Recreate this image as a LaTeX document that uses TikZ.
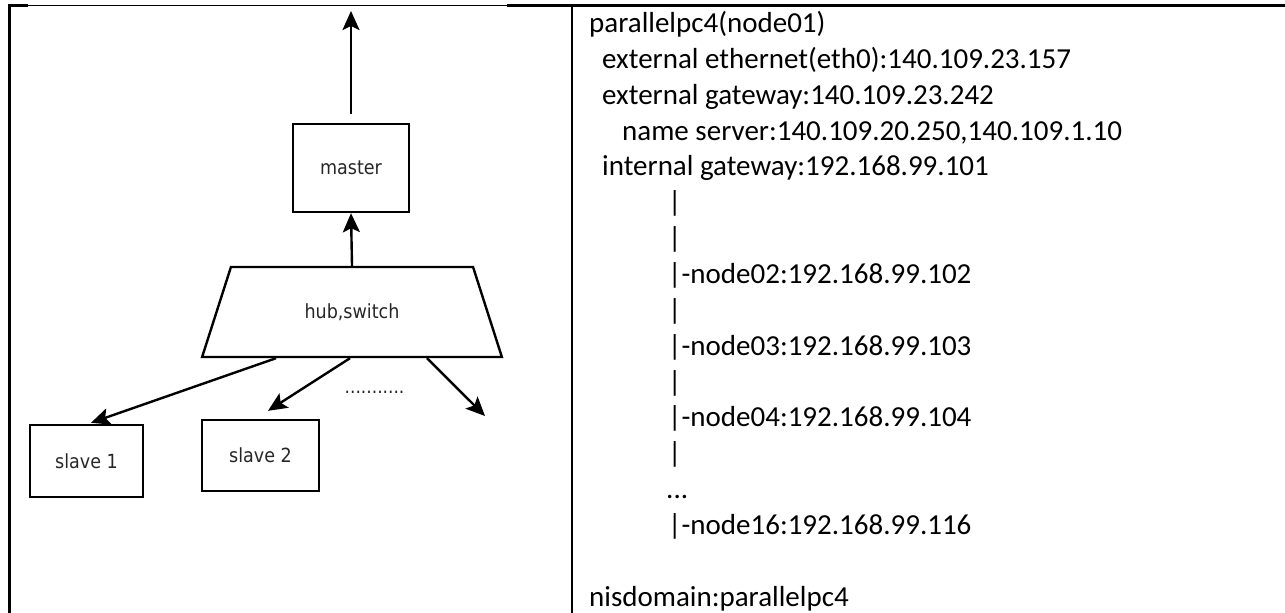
\documentclass[tikz,border=0pt]{standalone}
\usepackage{fontspec}
\setmainfont{Carlito}
\newfontfamily\diagfont{DejaVu Sans Condensed}
\usetikzlibrary{arrows.meta,shapes.geometric,calc}
\begin{document}
\begin{tikzpicture}[x=1pt,y=-1pt,
  box/.style={draw, line width=2.4pt, inner sep=0pt, font=\diagfont\fontsize{19.5}{22}\selectfont, text=black!85},
  conn/.style={line width=2.4pt, -{Stealth[length=19pt,width=17pt,inset=4pt]}},
  rtext/.style={anchor=base west, inner sep=0pt, font=\fontsize{29}{36}\selectfont},
  border/.style={line width=2.5pt}]
\useasboundingbox (0,0) rectangle (1285,613);
% table borders
\draw[border] (8,5.5) -- (28,5.5);
\draw[line width=1pt] (28,5) -- (507,5);
\draw[border] (507,5.5) -- (1285,5.5);
\draw[border] (9.5,4.25) -- (9.5,613);
\draw[line width=2pt] (572,4.25) -- (572,613);
% diagram
\node[box, minimum width=116pt, minimum height=88pt] (master) at (351,168) {master};
\node[box, trapezium, trapezium angle=56.5, trapezium stretches=true, minimum width=300pt, minimum height=90pt] (hub) at (352,312) {hub,switch};
\node[box, minimum width=113pt, minimum height=72pt] (s1) at (86.5,461) {slave 1};
\node[box, minimum width=117pt, minimum height=71pt] (s2) at (260.5,455.5) {slave 2};
\node[anchor=base, inner sep=0pt, font=\diagfont\fontsize{19}{20}\selectfont, text=black!85] (dots) at (374.5,393) {...........};
\coordinate (top) at (351,11);
\coordinate (e3) at (485,416);
\draw[conn] ([yshift=9pt]master.north) -- (top);
\draw[conn] (hub.north) -- (master.south);
\draw[conn] ($(hub.south)+(-76,0)$) -- ($(s1.north)+(4.5,-1)$);
\draw[conn] ($(hub.south)+(-2,0)$) -- ($(s2.north)+(7.5,-8)$);
\draw[conn] ($(hub.south)+(75,0)$) -- (e3);
% right cell text
\node[rtext] (r1) at (589,32) {parallelpc4(node01)};
\node[rtext] (r2) at (602,68) {external ethernet(eth0):140.109.23.157};
\node[rtext] (r3) at (602,104) {external gateway:140.109.23.242};
\node[rtext] (r4) at (622,140) {name server:140.109.20.250,140.109.1.10};
\node[rtext] (r5) at (602,175.5) {internal gateway:192.168.99.101};
\node[rtext] (r6) at (668,211.5) {|};
\node[rtext] (r7) at (668,247) {|};
\node[rtext] (r8) at (668,283) {|-node02:192.168.99.102};
\node[rtext] (r9) at (668,319) {|};
\node[rtext] (r10) at (668,355) {|-node03:192.168.99.103};
\node[rtext] (r11) at (668,391) {|};
\node[rtext] (r12) at (668,426.5) {|-node04:192.168.99.104};
\node[rtext] (r13) at (668,462.5) {|};
\node[rtext] (r14) at (666,498.5) {...};
\node[rtext] (r15) at (668,534) {|-node16:192.168.99.116};
\node[rtext] (r17) at (589,606) {nisdomain:parallelpc4};
\end{tikzpicture}
\end{document}
